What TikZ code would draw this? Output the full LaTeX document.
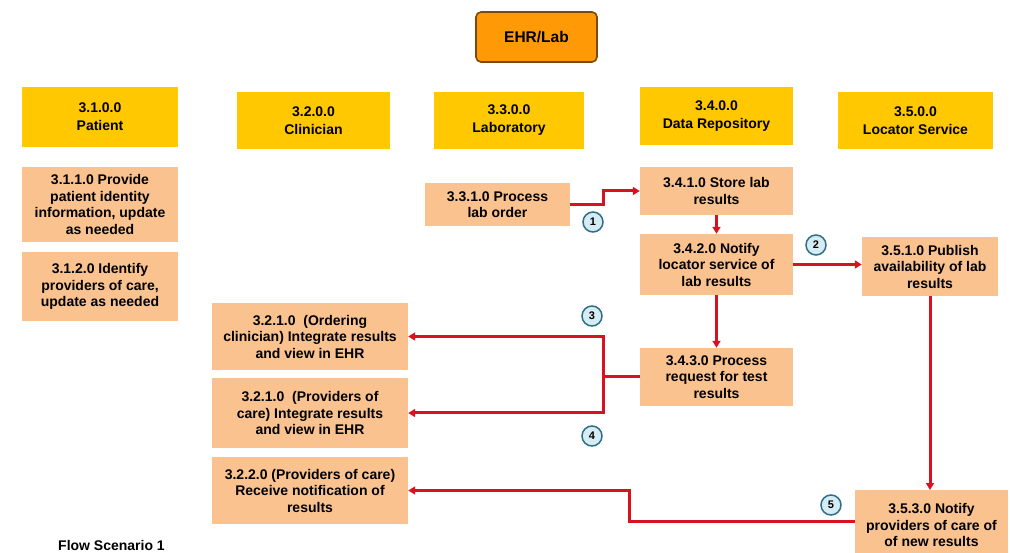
\documentclass[tikz,border=0pt]{standalone}
\usepackage{fontspec}
\setmainfont{Liberation Sans}
\usetikzlibrary{arrows.meta}
\definecolor{hdrgold}{HTML}{FFC800}
\definecolor{taskfill}{HTML}{FAC28E}
\definecolor{topfill}{HTML}{FF9A06}
\definecolor{topedge}{HTML}{7A4A08}
\definecolor{flowred}{HTML}{D8121E}
\definecolor{stepfill}{HTML}{D6ECF4}
\definecolor{stepedge}{HTML}{2F6F88}
\tikzset{
  hdrbox/.style={fill=hdrgold, draw=none, align=center, inner sep=2pt,
    font=\fontsize{14}{18}\selectfont\bfseries},
  taskbox/.style={fill=taskfill, draw=none, align=center, inner sep=2pt,
    font=\fontsize{14}{16.5}\selectfont\bfseries},
  topbox/.style={fill=topfill, draw=topedge, line width=1.6pt, rounded corners=5pt,
    align=center, font=\fontsize{15.5}{18}\selectfont\bfseries},
  flowline/.style={draw=flowred, line width=3pt},
  flowarrow/.style={flowline, -{Triangle[length=7pt,width=8pt]}},
  stepmark/.style={circle, fill=stepfill, draw=stepedge, line width=1.5pt,
    minimum size=20pt, inner sep=0pt, font=\fontsize{11}{12}\selectfont\bfseries}
}
\begin{document}
\begin{tikzpicture}[x=1pt, y=-1pt]
\useasboundingbox (0,0) rectangle (1010,553);

% top process
\node[topbox, minimum width=121, minimum height=50] (ehr) at (536.5,37) {EHR/Lab};

% swimlane headers
\node[hdrbox, minimum width=156, minimum height=60] (hpat) at (100,117) {3.1.0.0\\Patient};
\node[hdrbox, minimum width=153, minimum height=57] (hcli) at (313.5,120.5) {3.2.0.0\\Clinician};
\node[hdrbox, minimum width=150, minimum height=57] (hlab) at (509,120.5) {3.3.0.0\\Laboratory};
\node[hdrbox, minimum width=153, minimum height=58] (hrep) at (716.5,116) {3.4.0.0\\Data Repository};
\node[hdrbox, minimum width=155, minimum height=57] (hloc) at (915.5,120.5) {3.5.0.0\\Locator Service};

% patient tasks
\node[taskbox, minimum width=156, minimum height=75] (p311) at (100,204.5)
  {3.1.1.0 Provide\\patient identity\\information, update\\as needed};
\node[taskbox, minimum width=156, minimum height=69] (p312) at (100,286.5)
  {3.1.2.0 Identify\\providers of care,\\update as needed};

% clinician tasks
\node[taskbox, minimum width=196, minimum height=67] (c321a) at (310,336.5)
  {3.2.1.0 \ (Ordering\\clinician) Integrate results\\and view in EHR};
\node[taskbox, minimum width=196, minimum height=70] (c321b) at (310,413)
  {3.2.1.0 \ (Providers of\\care) Integrate results\\and view in EHR};
\node[taskbox, minimum width=196, minimum height=67] (c322) at (310,490.5)
  {3.2.2.0 (Providers of care)\\Receive notification of\\results};

% laboratory task
\node[taskbox, minimum width=145, minimum height=43] (l331) at (497.5,204.5)
  {3.3.1.0 Process\\lab order};

% data repository tasks
\node[taskbox, minimum width=153, minimum height=48] (d341) at (716.5,191)
  {3.4.1.0 Store lab\\results};
\node[taskbox, minimum width=153, minimum height=61] (d342) at (716.5,264.5)
  {3.4.2.0 Notify\\locator service of\\lab results};
\node[taskbox, minimum width=153, minimum height=58] (d343) at (716.5,377)
  {3.4.3.0 Process\\request for test\\results};

% locator service tasks
\node[taskbox, minimum width=136, minimum height=59] (s351) at (930,266.5)
  {3.5.1.0 Publish\\availability of lab\\results};
\node[taskbox, minimum width=153, minimum height=70, anchor=north] (s353) at (931.5,490)
  {3.5.3.0 Notify\\providers of care of\\of new results};

% flows
\draw[flowarrow] (l331.east) -- ++(33,0) |- (d341.west);
\draw[flowarrow] (d341.south) -- (d342.north);
\draw[flowarrow] (d342.east) -- (d342.east -| s351.west);
\draw[flowarrow] (d342.south) -- (d343.north);
\draw[flowline] (d343.west) -- ++(-36,0) coordinate (split);
\draw[flowarrow] (split) |- (c321a.east);
\draw[flowarrow] (split) |- (c321b.east);
\draw[flowarrow] (s351.south) -- (s351.south |- s353.north);
\draw[flowarrow] ([yshift=4pt]s353.west) -- ++(-225,0) |- (c322.east);

% step numbers
\node[stepmark] (n1) at (593,222) {1};
\node[stepmark] (n2) at (816,245) {2};
\node[stepmark] (n3) at (592,316) {3};
\node[stepmark] (n4) at (592,436) {4};
\node[stepmark] (n5) at (831,505) {5};

% caption
\node[font=\fontsize{14}{16}\selectfont\bfseries, anchor=west, inner sep=0pt] (cap) at (58,545) {Flow Scenario 1};
\end{tikzpicture}
\end{document}
